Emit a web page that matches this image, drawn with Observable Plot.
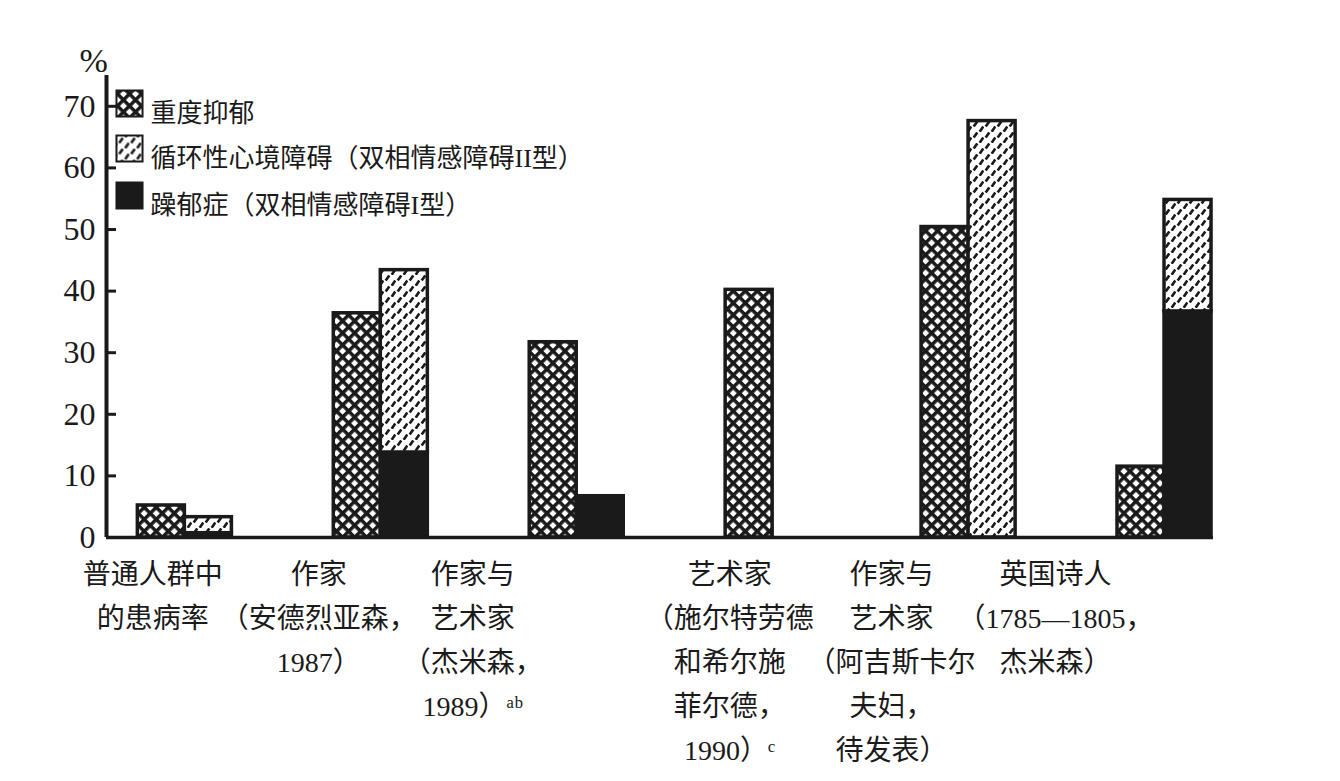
<!DOCTYPE html>
<html><head><meta charset="utf-8">
<script src="https://cdn.jsdelivr.net/npm/d3@7"></script>
<script src="https://cdn.jsdelivr.net/npm/@observablehq/plot@0.6"></script>
<style>body{margin:0;background:#fff}</style>
</head><body><div id="chart"></div>
<script>
// ---- data ----
const groups = [
  "普通人群中\n的患病率",
  "作家\n（安德烈亚森，\n1987）",
  "作家与\n艺术家\n（杰米森，\n1989）ᵃᵇ",
  "艺术家\n（施尔特劳德\n和希尔施\n菲尔德，\n1990）ᶜ",
  "作家与\n艺术家\n（阿吉斯卡尔\n夫妇，\n待发表）",
  "英国诗人\n（1785—1805，\n杰米森）"
];
const majorDepression = [5.2, 36.4, 31.7, 40.2, 50.4, 11.5];
const manicDepression = [0.7, 13.8, 6.7, 0, 0, 36.7];
const cyclothymia = [2.6, 29.6, 0, 0, 67.6, 18.1];
const seriesNames = ["重度抑郁", "循环性心境障碍（双相情感障碍II型）", "躁郁症（双相情感障碍I型）"];
const yTicks = [0, 10, 20, 30, 40, 50, 60, 70];

// ---- layout / style ----
const ink = "#1a1a1a";
const barW = 0.24;
const xDomain = [-0.4, 5.25];
const labelDx = [-32, -62, -104, -43, -77, -109];
const legendDy = [28, 73, 120];
const fills = ["url(#pCross)", "url(#pDash)", ink];

const majorRows = groups.map((g, i) => ({x1: i - barW, x2: i, y1: 0, y2: majorDepression[i]})).filter(d => d.y2 > d.y1);
const manicRows = groups.map((g, i) => ({x1: i, x2: i + barW, y1: 0, y2: manicDepression[i]})).filter(d => d.y2 > d.y1);
const cycloRows = groups.map((g, i) => ({x1: i, x2: i + barW, y1: manicDepression[i], y2: manicDepression[i] + cyclothymia[i]})).filter(d => d.y2 > d.y1);

const defs = () => {
  const g = document.createElementNS("http://www.w3.org/2000/svg", "defs");
  g.innerHTML = `
  <pattern id="pCross" width="8.5" height="8.5" patternUnits="userSpaceOnUse" patternTransform="rotate(45)">
    <rect width="8.5" height="8.5" fill="#fff"/>
    <rect width="8.5" height="3.5" fill="${ink}"/>
    <rect width="3.5" height="8.5" fill="${ink}"/>
  </pattern>
  <pattern id="pDash" width="12" height="11" patternUnits="userSpaceOnUse">
    <rect width="12" height="11" fill="#fff"/>
    <path d="M1.7,5.6L5.3,0.4M7.7,10.8L11.3,5.6" stroke="${ink}" stroke-width="2.6"/>
  </pattern>`;
  return g;
};

const barOpts = {x1: "x1", x2: "x2", y1: "y1", y2: "y2", stroke: ink, strokeWidth: 3.5};

const chart = Plot.plot({
  width: 1340,
  height: 781,
  marginLeft: 106,
  marginRight: 127,
  marginTop: 75,
  marginBottom: 244,
  style: {fontFamily: "'Liberation Serif', 'Noto Sans CJK SC', serif", color: ink, background: "#fff", overflow: "visible"},
  x: {type: "linear", domain: xDomain, axis: null},
  y: {domain: [0, 75]},
  marks: [
    defs,
    Plot.rect(majorRows, {...barOpts, fill: fills[0]}),
    Plot.rect(manicRows, {...barOpts, fill: fills[2]}),
    Plot.rect(cycloRows, {...barOpts, fill: fills[1]}),
    Plot.ruleX([xDomain[0]], {y1: 0, y2: 75, stroke: ink, strokeWidth: 4}),
    Plot.ruleY([0], {stroke: ink, strokeWidth: 3.5}),
    Plot.axisY(yTicks, {tickSize: -10, tickPadding: 21, strokeWidth: 3, fontSize: 32, label: null, fill: ink}),
    Plot.text(["%"], {x: null, y: null, text: d => d, frameAnchor: "top-left", dx: -27, dy: -28, fontSize: 34, fill: ink}),
    ...seriesNames.flatMap((name, k) => [
      Plot.dot([name], {x: null, y: null, frameAnchor: "top-left", dx: 23, dy: legendDy[k], symbol: "square", r: 14.7, fill: fills[k], stroke: ink, strokeWidth: 2}),
      Plot.text([name], {x: null, y: null, text: d => d, frameAnchor: "top-left", dx: 44, dy: legendDy[k], textAnchor: "start", fontSize: 26, fill: ink})
    ]),
    ...groups.map((label, i) => Plot.text([label], {x: () => i, y: () => 0, text: d => d, dx: labelDx[i], dy: 15, lineAnchor: "top", lineHeight: 1.57, fontSize: 28, fill: ink}))
  ]
});
document.getElementById("chart").appendChild(chart);
</script>
</body></html>
